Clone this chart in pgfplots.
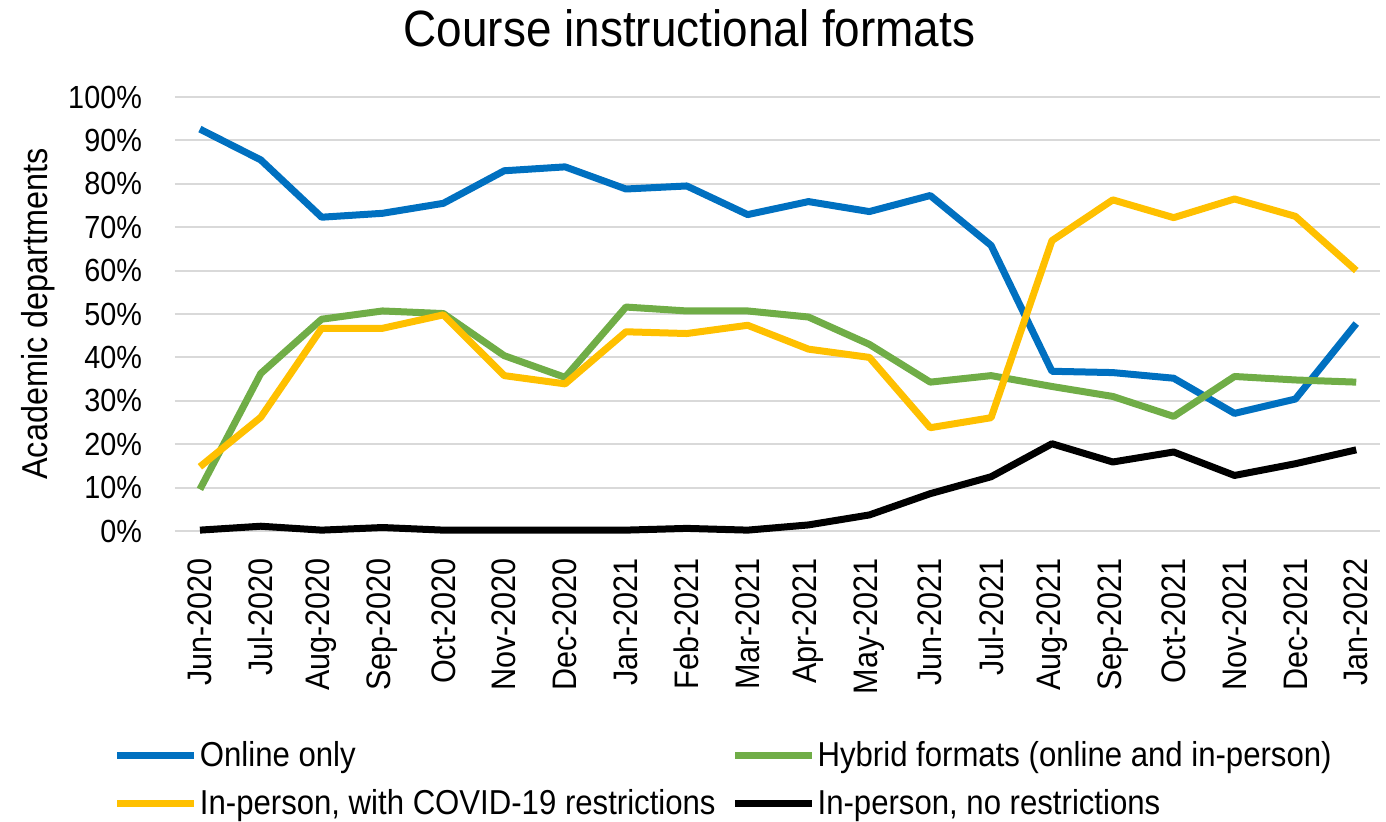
\documentclass[border=0pt]{standalone}
\usepackage{pgfplots}
\pgfplotsset{compat=1.18}
\usepackage{fontspec}
\setmainfont[FakeStretch=0.9]{Liberation Sans}
\definecolor{cblue}{HTML}{0070C0}
\definecolor{cgreen}{HTML}{70AD47}
\definecolor{cyellow}{HTML}{FFC000}
\definecolor{cgrid}{HTML}{D9D9D9}
\begin{document}
\begin{tikzpicture}
\begin{axis}[
  width=602.5pt, height=217pt, scale only axis,
  xmin=-0.41, xmax=19.39, ymin=0, ymax=100,
  clip=false,
  axis line style={draw=none},
  major tick length=0pt,
  ymajorgrids, major grid style={draw=cgrid, line width=1pt},
  ytick={0,10,...,100},
  yticklabel={\pgfmathprintnumber{\tick}\%},
  /pgf/number format/assume math mode=true,
  xtick={0,...,19},
  xticklabels={Jun-2020,Jul-2020,Aug-2020,Sep-2020,Oct-2020,Nov-2020,Dec-2020,Jan-2021,Feb-2021,Mar-2021,Apr-2021,May-2021,Jun-2021,Jul-2021,Aug-2021,Sep-2021,Oct-2021,Nov-2021,Dec-2021,Jan-2022},
  x tick label style={font=\fontsize{17}{20}\selectfont, yshift=-10pt, rotate=90, anchor=east},
  y tick label style={font=\fontsize{16}{20}\selectfont, xshift=-13pt},
  ylabel={Academic departments},
  every axis y label/.style={at={(rel axis cs:-0.1137,0.5)}, rotate=90, anchor=center, font=\fontsize{18}{20}\selectfont},
  legend columns=2,
  legend style={at={(rel axis cs:-0.051,-0.475)}, anchor=north west, draw=none, fill=none, inner sep=0pt,
    font=\fontsize{17.3}{20}\selectfont, column sep=6pt, row sep=6pt, cells={anchor=west}},
  legend image code/.code={\draw[#1, line width=3.5pt] (0pt,0pt) -- (31.5pt,0pt);
    \draw[#1, line width=3.5pt, overlay] (31pt,0pt) -- (38.5pt,0pt);},
  every axis plot/.append style={line width=3.5pt, line join=round, mark=none},
]
\addplot[cblue] coordinates {(0,92.6)(1,85.5)(2,72.3)(3,73.2)(4,75.5)(5,83.0)(6,83.9)(7,78.8)(8,79.5)(9,72.9)(10,75.9)(11,73.6)(12,77.3)(13,65.8)(14,36.8)(15,36.5)(16,35.2)(17,27.1)(18,30.4)(19,47.8)};
\addlegendentry{Online only}
\addplot[cgreen] coordinates {(0,9.6)(1,36.3)(2,48.8)(3,50.7)(4,50.1)(5,40.4)(6,35.4)(7,51.6)(8,50.7)(9,50.7)(10,49.3)(11,43.0)(12,34.3)(13,35.8)(14,33.3)(15,31.0)(16,26.4)(17,35.6)(18,34.8)(19,34.3)};
\addlegendentry{Hybrid formats (online and in-person)}
\addplot[cyellow] coordinates {(0,14.8)(1,26.2)(2,46.7)(3,46.7)(4,49.8)(5,35.8)(6,33.9)(7,45.9)(8,45.5)(9,47.4)(10,41.9)(11,40.0)(12,23.8)(13,26.1)(14,66.9)(15,76.3)(16,72.2)(17,76.5)(18,72.5)(19,60.0)};
\addlegendentry{In-person, with COVID-19 restrictions}
\addplot[black] coordinates {(0,0.2)(1,1.1)(2,0.2)(3,0.8)(4,0.2)(5,0.2)(6,0.2)(7,0.2)(8,0.6)(9,0.2)(10,1.4)(11,3.7)(12,8.6)(13,12.5)(14,20.1)(15,15.9)(16,18.2)(17,12.8)(18,15.5)(19,18.7)};
\addlegendentry{In-person, no restrictions}
\node[font=\fontsize{25.5}{30}\selectfont, anchor=center] at (rel axis cs:0.427,1.159) {Course instructional formats};
\coordinate (bbSW) at (rel axis cs:-0.1452,-0.6682);
\coordinate (bbNE) at (rel axis cs:1.005,1.2235);
\end{axis}
\path (bbSW) rectangle (bbNE);
\end{tikzpicture}
\end{document}
